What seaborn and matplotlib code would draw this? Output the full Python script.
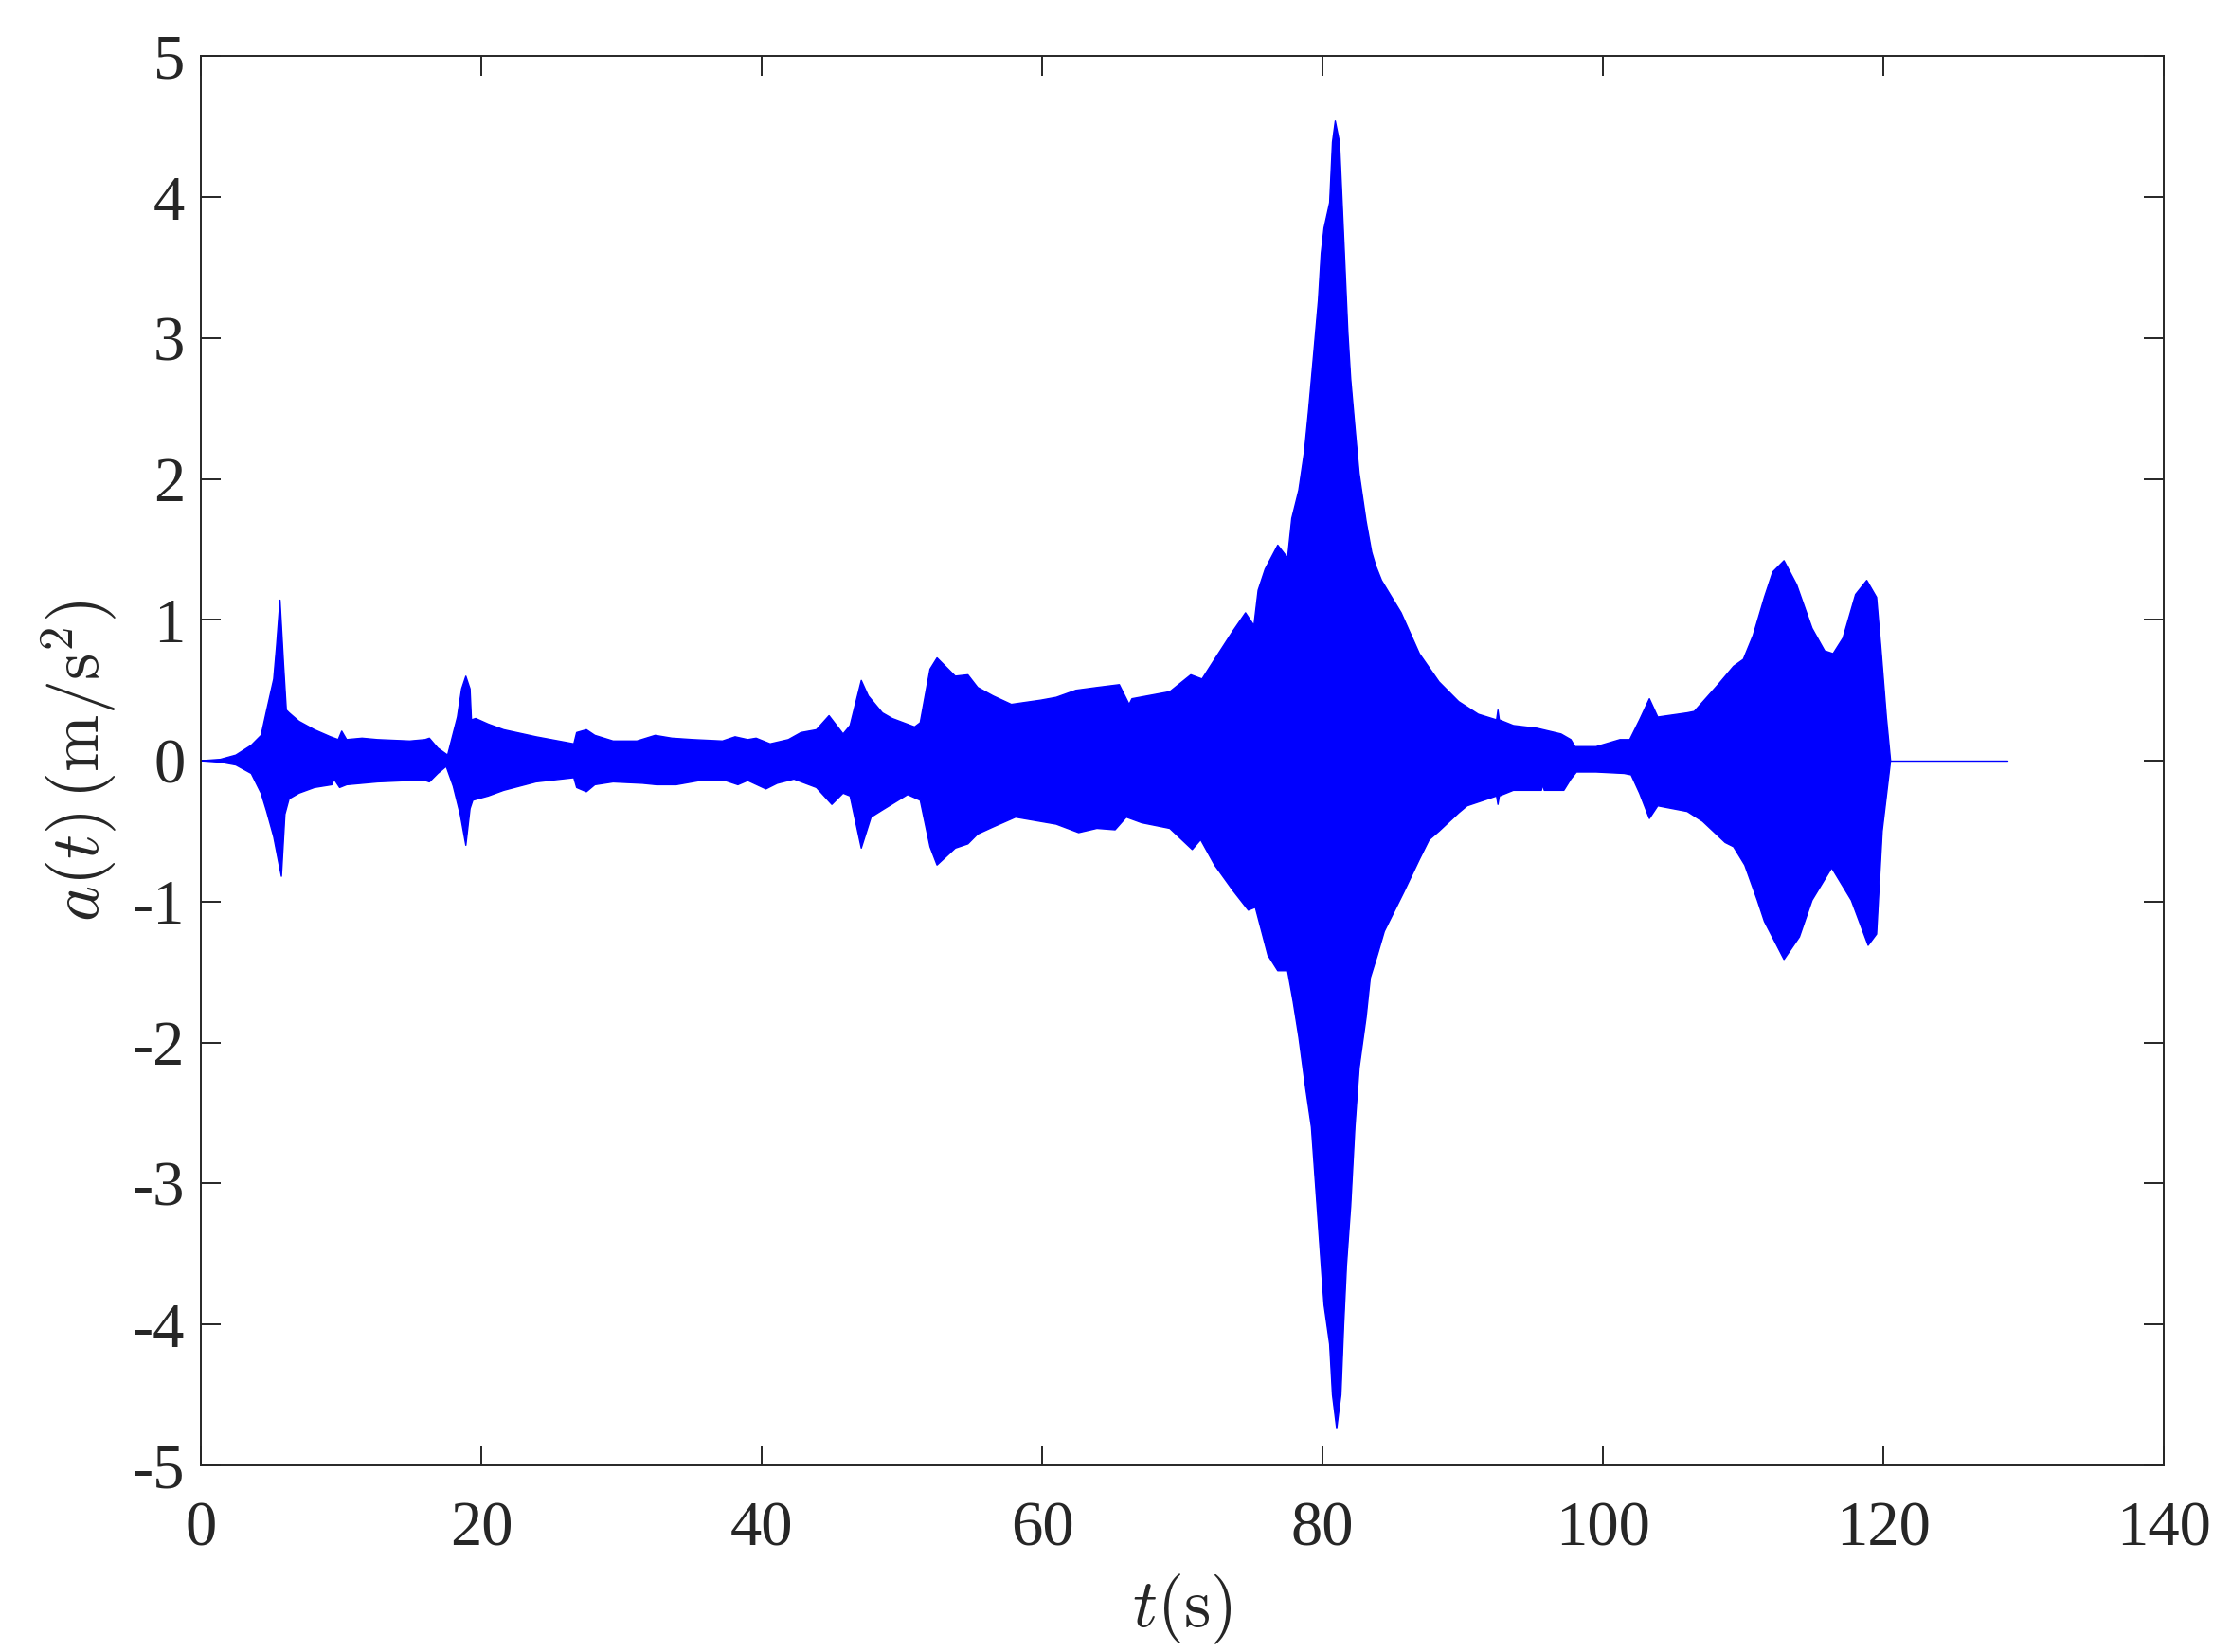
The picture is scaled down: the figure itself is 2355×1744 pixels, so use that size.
import numpy as np
import pandas as pd
import matplotlib
matplotlib.use("Agg")
import matplotlib.pyplot as plt
import seaborn as sns

# Upper envelope of the acceleration record (t in s, a in m/s^2)
t_upper = [0, 1.4, 2.5, 3.6, 4.3, 4.7, 5.2, 5.4, 5.65, 5.9, 6.1, 6.3, 7.0, 8.1, 9.25, 9.8, 10.05,
           10.4, 11.5, 12.6, 14.9, 16.0, 16.3, 16.9, 17.6, 18.3, 18.6, 18.9, 19.2, 19.3, 19.6, 20.5,
           21.6, 23.9, 26.6, 26.8, 27.5, 28.1, 29.4, 31.1, 32.4, 33.6, 35.1, 37.2, 38.1, 39.0, 39.6,
           40.6, 41.9, 42.8, 43.9, 44.8, 45.8, 46.3, 47.1, 47.6, 48.6, 49.3, 50.9, 51.3, 52.0, 52.5,
           53.8, 54.7, 55.4, 56.5, 57.8, 59.9, 61.0, 62.4, 63.9, 65.5, 66.2, 66.4, 69.1, 70.6, 71.4,
           72.3, 73.6, 74.5, 75.1, 75.4, 75.9, 76.8, 77.5, 77.8, 78.3, 78.7, 79.0, 79.3, 79.7, 79.9,
           80.1, 80.5, 80.7, 80.9, 81.2, 81.4, 81.6, 81.8, 82.0, 82.3, 82.6, 83.1, 83.5, 83.8, 84.2,
           85.6, 86.9, 88.3, 89.7, 91.1, 92.4, 92.5, 92.6, 93.6, 95.3, 97.0, 97.7, 98.0, 99.5, 101.2,
           101.9, 102.6, 103.3, 103.9, 106.0, 106.5, 108.2, 109.3, 110.0, 110.7, 111.5, 112.1, 112.9,
           113.8, 114.9, 115.8, 116.4, 117.1, 118.0, 118.8, 119.5, 119.8, 120.2, 120.5]
a_upper = [0, 0.01, 0.04, 0.11, 0.18, 0.36, 0.58, 0.81, 1.14, 0.69, 0.36, 0.34, 0.28, 0.22, 0.17, 0.15, 0.21,
           0.15, 0.16, 0.15, 0.14, 0.15, 0.16, 0.09, 0.04, 0.31, 0.51, 0.60, 0.51, 0.29, 0.30, 0.26,
           0.22, 0.17, 0.12, 0.20, 0.22, 0.18, 0.14, 0.14, 0.18, 0.16, 0.15, 0.14, 0.17, 0.15, 0.16,
           0.12, 0.15, 0.20, 0.22, 0.32, 0.19, 0.25, 0.57, 0.46, 0.34, 0.30, 0.24, 0.27, 0.65, 0.73,
           0.60, 0.61, 0.52, 0.46, 0.40, 0.43, 0.45, 0.50, 0.52, 0.54, 0.40, 0.44, 0.49, 0.61, 0.58,
           0.72, 0.92, 1.05, 0.96, 1.21, 1.36, 1.53, 1.44, 1.72, 1.92, 2.19, 2.49, 2.82, 3.27, 3.60,
           3.78, 3.96, 4.39, 4.54, 4.39, 3.94, 3.49, 3.04, 2.71, 2.37, 2.04, 1.70, 1.48, 1.38, 1.28,
           1.05, 0.76, 0.56, 0.42, 0.33, 0.29, 0.36, 0.29, 0.25, 0.23, 0.19, 0.15, 0.10, 0.10, 0.15,
           0.15, 0.29, 0.44, 0.31, 0.34, 0.35, 0.54, 0.67, 0.72, 0.89, 1.16, 1.34, 1.42,
           1.25, 0.94, 0.78, 0.76, 0.87, 1.18, 1.28, 1.16, 0.81, 0.31, 0.0]

# Lower envelope
t_lower = [0, 1.4, 2.5, 3.6, 4.3, 4.7, 5.2, 5.55, 5.75, 6.0, 6.3, 7.0, 8.1, 9.35, 9.5, 9.9, 10.4,
           11.5, 12.6, 14.9, 16.0, 16.3, 16.9, 17.5, 18.0, 18.5, 18.9, 19.2, 19.4, 20.5, 21.6, 23.9,
           26.6, 26.8, 27.5, 28.1, 29.4, 31.5, 32.5, 33.9, 35.6, 37.4, 38.3, 39.0, 40.3, 41.1, 42.3,
           43.9, 45.0, 45.8, 46.3, 47.1, 47.8, 48.6, 50.4, 51.3, 52.0, 52.5, 53.8, 54.7, 55.4, 56.5,
           58.1, 61.0, 62.6, 63.9, 65.2, 66.0, 67.1, 69.1, 70.7, 71.3, 72.3, 73.6, 74.7, 75.2, 76.1,
           76.8, 77.5, 77.9, 78.3, 78.8, 79.2, 79.5, 79.8, 80.1, 80.5, 80.7, 81.0, 81.3, 81.5, 81.7,
           82.0, 82.3, 82.6, 83.1, 83.4, 83.9, 84.4, 84.9, 85.8, 86.9, 87.6, 88.3, 89.7, 90.3, 92.4,
           92.5, 92.6, 93.6, 95.6, 95.7, 95.8, 97.2, 97.7, 98.1, 99.5, 101.5, 102.0, 102.6, 103.3,
           103.9, 106.0, 107.1, 108.7, 109.3, 110.1, 111.0, 111.5, 112.9, 114.0, 114.9, 116.3,
           117.7, 118.9, 119.5, 119.9, 120.5]
a_lower = [0, -0.01, -0.03, -0.09, -0.23, -0.36, -0.54, -0.72, -0.82, -0.38, -0.27, -0.23, -0.19, -0.17, -0.13, -0.19, -0.17,
           -0.16, -0.15, -0.14, -0.14, -0.15, -0.09, -0.04, -0.18, -0.38, -0.60, -0.34, -0.28, -0.25, -0.21, -0.15,
           -0.12, -0.19, -0.22, -0.17, -0.15, -0.16, -0.17, -0.17, -0.14, -0.14, -0.17, -0.14, -0.20, -0.16, -0.13,
           -0.19, -0.31, -0.23, -0.25, -0.62, -0.40, -0.35, -0.24, -0.28, -0.61, -0.74, -0.62, -0.59, -0.52, -0.47,
           -0.40, -0.45, -0.51, -0.48, -0.49, -0.40, -0.44, -0.48, -0.63, -0.56, -0.74, -0.92, -1.06, -1.04, -1.38,
           -1.49, -1.49, -1.71, -1.96, -2.33, -2.60, -3.02, -3.44, -3.86, -4.14, -4.50, -4.74, -4.50, -4.00, -3.58,
           -3.16, -2.60, -2.18, -1.82, -1.54, -1.38, -1.21, -1.11, -0.93, -0.70, -0.56, -0.50, -0.37, -0.32, -0.25,
           -0.31, -0.25, -0.21, -0.21, -0.17, -0.21, -0.21, -0.13, -0.08, -0.08, -0.09, -0.10, -0.23, -0.41,
           -0.32, -0.36, -0.43, -0.58, -0.61, -0.74, -0.99, -1.14, -1.41, -1.25, -0.99, -0.76,
           -0.99, -1.31, -1.23, -0.50, 0.0]

# Residual (near-zero) tail after the record ends
t_tail = [120.5, 128.8]
a_tail = [0.0, 0.0]

x_ticks = [0, 20, 40, 60, 80, 100, 120, 140]
y_ticks = [-5, -4, -3, -2, -1, 0, 1, 2, 3, 4, 5]

sns.set_style("ticks")
plt.rcParams["font.family"] = ["Liberation Serif", "DejaVu Serif"]
plt.rcParams["mathtext.fontset"] = "cm"
plt.rcParams["axes.unicode_minus"] = False

fig, ax = plt.subplots(figsize=(23.55, 17.44), dpi=100)
fig.subplots_adjust(left=0.090, right=0.970, bottom=0.113, top=0.966)

blue = "#0000FF"
df_u = pd.DataFrame({"t": t_upper, "a": a_upper})
df_l = pd.DataFrame({"t": t_lower, "a": a_lower})
df_t = pd.DataFrame({"t": t_tail, "a": a_tail})

sns.lineplot(data=df_u, x="t", y="a", ax=ax, color=blue, lw=1.0, sort=False, estimator=None)
sns.lineplot(data=df_l, x="t", y="a", ax=ax, color=blue, lw=1.0, sort=False, estimator=None)
sns.lineplot(data=df_t, x="t", y="a", ax=ax, color=blue, lw=1.0, sort=False, estimator=None)
ax.fill(np.concatenate([df_u["t"].values, df_l["t"].values[::-1]]),
        np.concatenate([df_u["a"].values, df_l["a"].values[::-1]]),
        color=blue, lw=0)

ax.set_xlim(0, 140)
ax.set_ylim(-5, 5)
ax.set_xticks(x_ticks)
ax.set_yticks(y_ticks)
ax.set_xticklabels([str(v) for v in x_ticks])
ax.set_yticklabels([str(v) for v in y_ticks])

for s in ax.spines.values():
    s.set_visible(True)
    s.set_linewidth(1.4)
    s.set_color("#262626")

ax.tick_params(axis="both", which="both", direction="in", length=15, width=1.4,
               color="#262626", labelsize=48, labelcolor="#262626",
               top=True, right=True)
ax.tick_params(axis="x", pad=27)
ax.tick_params(axis="y", pad=12)

ax.set_xlabel(r"$t(\mathrm{s})$", fontsize=52, labelpad=10, color="#262626")
ax.set_ylabel(r"$a(t)\,(\mathrm{m/s}^2)$", fontsize=52, labelpad=10, color="#262626")

fig.savefig("out.png", dpi=100, facecolor="white")
